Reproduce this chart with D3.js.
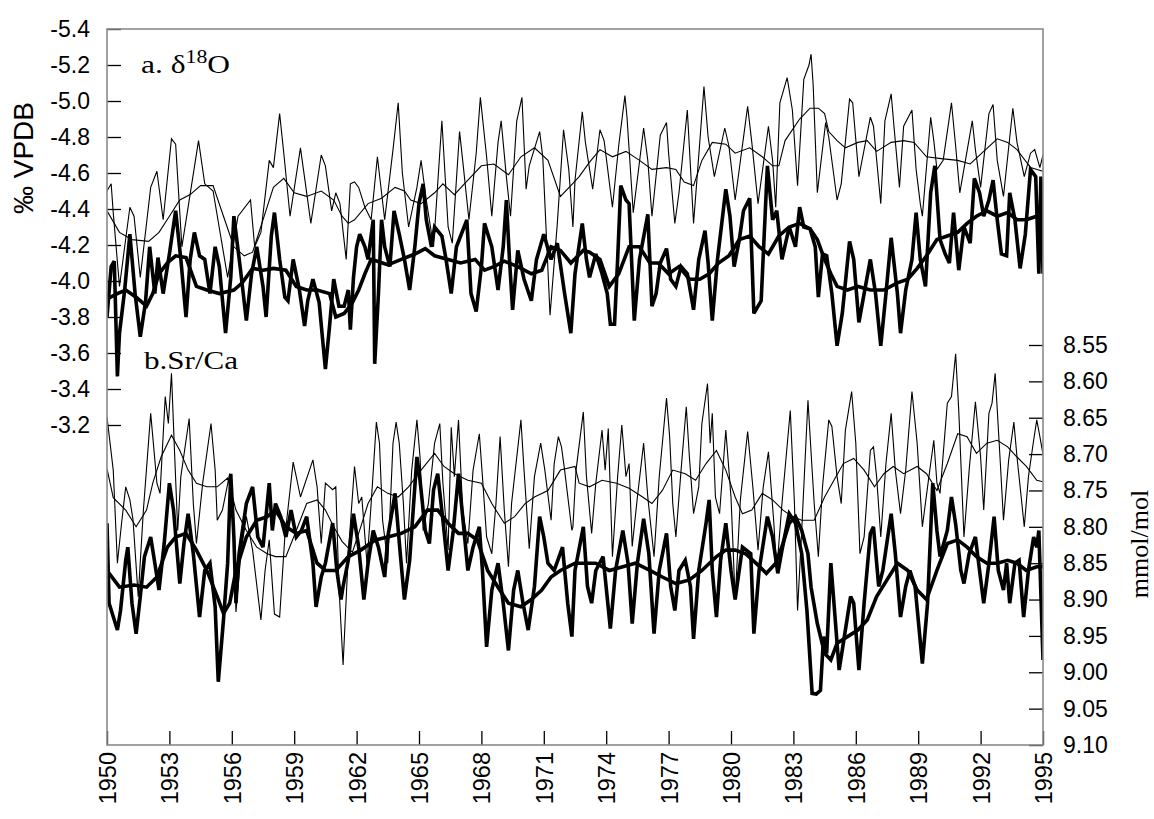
<!doctype html>
<html lang="en-US">
<head>
    <meta charset="UTF-8">
    <title>Coral d18O and Sr/Ca, 1950-1995</title>
    <script src="https://d3js.org/d3.v7.min.js" charset="utf-8"></script>
    <style>
        body { margin: 0; background: #fff; }
        svg { display: block; }
        .tick text { font-family: "Liberation Sans", Arial, sans-serif; font-size: 23px; fill: #000; }
        .tick line { stroke: #000; stroke-width: 1.3; }
        .domain { display: none; }
    </style>
</head>
<body>
<svg id="chart" width="1154" height="819"></svg>
<script>
    // ---- data ([year, value]) ---- //

    const yearTicks = [1950, 1953, 1956, 1959, 1962, 1965, 1968, 1971, 1974, 1977, 1980, 1983, 1986, 1989, 1992, 1995];
    const o18Ticks = [-5.4, -5.2, -5.0, -4.8, -4.6, -4.4, -4.2, -4.0, -3.8, -3.6, -3.4, -3.2];
    const srTicks = [8.55, 8.60, 8.65, 8.70, 8.75, 8.80, 8.85, 8.90, 8.95, 9.00, 9.05, 9.10];

    // a. d18O, thin record
    const o18Thin = [[1950.0,-4.50],[1950.2,-4.54],[1950.3,-4.38],[1950.6,-3.97],[1951.1,-4.41],[1951.3,-4.36],[1951.6,-4.02],[1952.1,-4.52],[1952.4,-4.61],[1952.7,-4.34],[1953.1,-4.79],[1953.3,-4.76],[1953.6,-4.19],[1954.4,-4.78],[1954.7,-4.54],[1955.1,-4.50],[1955.8,-4.02],[1956.3,-4.36],[1956.9,-4.45],[1957.1,-4.19],[1957.4,-4.27],[1957.8,-4.67],[1958.0,-4.63],[1958.3,-4.93],[1958.5,-4.71],[1958.8,-4.36],[1959.3,-4.74],[1959.6,-4.49],[1959.8,-4.32],[1960.3,-4.70],[1960.5,-4.64],[1960.8,-4.39],[1961.0,-4.49],[1961.2,-4.43],[1961.5,-4.12],[1961.7,-4.54],[1961.9,-4.55],[1962.1,-4.52],[1962.4,-4.41],[1962.7,-4.34],[1963.0,-4.69],[1963.35,-4.34],[1963.75,-4.73],[1964.0,-4.99],[1964.2,-4.60],[1964.5,-4.30],[1964.9,-4.52],[1965.1,-4.67],[1965.35,-4.45],[1965.7,-4.19],[1966.1,-4.89],[1966.4,-4.30],[1966.6,-4.21],[1966.95,-4.83],[1967.1,-4.67],[1967.4,-4.34],[1967.75,-4.71],[1967.95,-5.02],[1968.25,-4.69],[1968.5,-4.36],[1968.8,-4.77],[1968.95,-4.89],[1969.2,-4.58],[1969.4,-4.36],[1969.7,-4.89],[1969.95,-5.02],[1970.15,-4.51],[1970.3,-4.64],[1970.8,-4.83],[1970.95,-4.69],[1971.3,-3.81],[1971.65,-4.32],[1971.95,-4.84],[1972.2,-4.62],[1972.4,-4.30],[1972.5,-4.56],[1972.85,-4.94],[1973.0,-4.77],[1973.35,-4.51],[1973.7,-4.84],[1973.9,-4.78],[1974.3,-4.41],[1974.6,-4.75],[1974.9,-5.03],[1975.0,-4.91],[1975.3,-4.38],[1975.8,-4.85],[1976.0,-4.67],[1976.2,-4.36],[1976.6,-4.81],[1976.9,-4.88],[1977.0,-4.71],[1977.3,-4.32],[1977.5,-4.49],[1977.9,-4.95],[1978.2,-4.32],[1978.4,-4.62],[1978.7,-5.08],[1978.9,-4.80],[1979.2,-4.58],[1979.7,-4.85],[1979.9,-4.75],[1980.2,-4.45],[1980.8,-4.97],[1981.0,-4.77],[1981.3,-4.43],[1981.8,-4.86],[1982.0,-4.67],[1982.15,-4.41],[1982.35,-4.99],[1982.7,-5.13],[1982.95,-4.95],[1983.2,-4.53],[1983.5,-5.12],[1983.75,-5.20],[1983.85,-5.26],[1983.95,-5.09],[1984.15,-4.49],[1984.55,-4.88],[1984.7,-4.80],[1985.1,-4.45],[1985.3,-4.54],[1985.7,-5.01],[1985.85,-4.99],[1986.15,-4.58],[1986.7,-4.91],[1986.85,-4.86],[1987.2,-4.43],[1987.4,-4.89],[1987.7,-5.04],[1987.85,-4.84],[1988.1,-4.52],[1988.3,-4.86],[1988.7,-4.95],[1988.9,-4.62],[1989.1,-4.43],[1989.2,-4.36],[1989.6,-4.91],[1989.75,-4.78],[1989.9,-4.62],[1990.2,-4.67],[1990.6,-4.99],[1990.8,-4.75],[1991.0,-4.49],[1991.6,-4.89],[1991.75,-4.73],[1992.0,-4.52],[1992.4,-4.93],[1992.6,-4.98],[1992.8,-4.67],[1993.1,-4.47],[1993.55,-4.96],[1993.75,-4.77],[1994.1,-4.58],[1994.4,-4.71],[1994.6,-4.73],[1994.85,-4.63],[1995.0,-4.70]];
    const o18ThinMean = [[1950.0,-4.39],[1950.6,-4.27],[1951.2,-4.23],[1952.0,-4.22],[1952.5,-4.27],[1953.0,-4.36],[1953.5,-4.45],[1954.0,-4.48],[1954.5,-4.53],[1955.1,-4.53],[1955.6,-4.36],[1956.1,-4.19],[1956.6,-4.14],[1957.0,-4.16],[1957.5,-4.34],[1958.0,-4.52],[1958.5,-4.57],[1959.0,-4.49],[1959.6,-4.47],[1960.3,-4.50],[1960.9,-4.45],[1961.3,-4.36],[1961.6,-4.32],[1961.9,-4.34],[1962.55,-4.43],[1963.2,-4.46],[1963.85,-4.52],[1964.3,-4.50],[1964.6,-4.45],[1965.1,-4.43],[1965.75,-4.49],[1966.15,-4.54],[1966.7,-4.48],[1967.35,-4.56],[1968.0,-4.64],[1968.6,-4.65],[1969.3,-4.59],[1969.9,-4.69],[1970.55,-4.74],[1971.2,-4.67],[1971.8,-4.47],[1972.3,-4.53],[1972.7,-4.58],[1973.2,-4.66],[1973.7,-4.73],[1974.3,-4.69],[1974.95,-4.72],[1975.6,-4.67],[1976.2,-4.62],[1976.9,-4.63],[1977.35,-4.62],[1977.75,-4.55],[1978.2,-4.53],[1978.6,-4.67],[1979.1,-4.77],[1979.75,-4.76],[1980.2,-4.71],[1980.9,-4.74],[1981.5,-4.69],[1982.0,-4.64],[1982.3,-4.64],[1982.6,-4.78],[1983.3,-4.90],[1983.8,-4.96],[1984.2,-4.96],[1984.5,-4.93],[1984.7,-4.83],[1985.1,-4.78],[1985.5,-4.74],[1986.1,-4.77],[1986.55,-4.78],[1987.0,-4.72],[1987.7,-4.77],[1988.3,-4.78],[1988.8,-4.77],[1989.4,-4.69],[1990.1,-4.68],[1990.9,-4.67],[1991.5,-4.65],[1992.15,-4.72],[1992.8,-4.79],[1993.3,-4.77],[1993.75,-4.73],[1994.4,-4.63],[1995.0,-4.61]];

    // a. d18O, thick record
    const o18Thick = [[1950.0,-3.80],[1950.2,-4.08],[1950.35,-4.11],[1950.5,-3.47],[1950.6,-3.71],[1950.85,-3.95],[1951.1,-4.26],[1951.35,-3.93],[1951.6,-3.69],[1951.85,-3.88],[1952.05,-4.19],[1952.3,-3.93],[1952.45,-4.13],[1952.7,-3.93],[1953.0,-4.15],[1953.3,-4.39],[1953.55,-4.12],[1953.8,-3.80],[1954.0,-4.12],[1954.2,-4.27],[1954.45,-4.14],[1954.7,-4.12],[1954.95,-3.93],[1955.2,-4.19],[1955.4,-4.08],[1955.7,-3.71],[1955.95,-4.02],[1956.1,-4.36],[1956.4,-4.08],[1956.7,-3.78],[1956.95,-4.04],[1957.2,-4.19],[1957.5,-3.97],[1957.65,-3.80],[1957.9,-4.25],[1958.05,-4.38],[1958.3,-4.12],[1958.55,-3.91],[1958.7,-3.89],[1958.95,-4.12],[1959.25,-3.95],[1959.5,-3.75],[1959.65,-3.89],[1959.9,-4.01],[1960.2,-3.88],[1960.5,-3.51],[1960.7,-3.75],[1960.9,-4.01],[1961.15,-3.86],[1961.4,-3.86],[1961.6,-3.95],[1961.7,-3.73],[1961.85,-4.02],[1962.0,-4.19],[1962.15,-4.26],[1962.4,-4.19],[1962.55,-4.12],[1962.8,-4.34],[1962.87,-3.54],[1963.05,-3.93],[1963.2,-4.34],[1963.35,-4.19],[1963.6,-4.08],[1963.8,-4.39],[1964.05,-4.26],[1964.3,-4.12],[1964.55,-3.95],[1964.8,-4.19],[1965.0,-4.43],[1965.2,-4.54],[1965.35,-4.34],[1965.6,-4.19],[1965.75,-4.30],[1966.1,-4.25],[1966.3,-4.12],[1966.55,-3.93],[1966.8,-4.19],[1967.0,-4.25],[1967.3,-4.34],[1967.5,-3.93],[1967.75,-3.83],[1968.0,-4.08],[1968.15,-4.32],[1968.5,-4.19],[1968.8,-3.95],[1969.05,-4.19],[1969.2,-4.45],[1969.35,-4.12],[1969.5,-3.84],[1969.75,-4.17],[1970.05,-4.01],[1970.4,-3.89],[1970.65,-4.12],[1971.0,-4.26],[1971.35,-4.12],[1971.65,-4.21],[1972.0,-3.93],[1972.3,-3.71],[1972.5,-4.04],[1972.85,-4.32],[1973.05,-4.12],[1973.2,-4.02],[1973.5,-4.15],[1973.8,-4.04],[1974.05,-3.93],[1974.2,-3.76],[1974.4,-3.76],[1974.55,-4.12],[1974.7,-4.53],[1974.95,-4.45],[1975.1,-4.43],[1975.35,-3.78],[1975.6,-4.12],[1976.0,-4.37],[1976.2,-3.86],[1976.4,-3.93],[1976.6,-4.10],[1976.9,-4.18],[1977.1,-4.01],[1977.35,-3.97],[1977.6,-4.08],[1977.9,-4.04],[1978.2,-3.84],[1978.45,-4.12],[1978.75,-4.28],[1978.9,-4.10],[1979.1,-3.78],[1979.35,-4.12],[1979.75,-4.51],[1979.95,-4.36],[1980.15,-4.08],[1980.4,-4.23],[1980.6,-4.39],[1980.9,-4.46],[1981.1,-3.82],[1981.45,-3.89],[1981.75,-4.64],[1982.0,-4.34],[1982.2,-4.39],[1982.45,-4.12],[1982.8,-4.30],[1983.1,-4.19],[1983.3,-4.41],[1983.5,-4.30],[1983.8,-4.29],[1984.05,-4.19],[1984.2,-3.91],[1984.4,-4.15],[1984.6,-4.14],[1984.85,-3.93],[1985.1,-3.64],[1985.35,-3.82],[1985.7,-4.22],[1985.9,-4.12],[1986.15,-3.77],[1986.4,-3.93],[1986.7,-4.12],[1986.95,-3.93],[1987.2,-3.64],[1987.45,-3.93],[1987.7,-4.24],[1988.0,-3.93],[1988.15,-3.71],[1988.4,-3.95],[1988.7,-4.12],[1988.9,-4.38],[1989.1,-4.12],[1989.35,-3.97],[1989.6,-4.49],[1989.8,-4.64],[1990.05,-4.23],[1990.3,-4.15],[1990.5,-4.10],[1990.7,-4.38],[1990.95,-4.06],[1991.2,-4.30],[1991.5,-4.21],[1991.7,-4.57],[1991.95,-4.49],[1992.15,-4.36],[1992.4,-4.45],[1992.6,-4.56],[1992.8,-4.34],[1993.0,-4.15],[1993.25,-4.14],[1993.4,-4.49],[1993.65,-4.34],[1993.9,-4.07],[1994.15,-4.26],[1994.4,-4.62],[1994.65,-4.58],[1994.8,-4.04],[1994.9,-4.58],[1995.0,-4.04]];
    const o18ThickMean = [[1950.0,-3.90],[1950.5,-3.93],[1950.9,-3.95],[1951.4,-3.91],[1951.9,-3.86],[1952.2,-3.93],[1952.5,-4.04],[1952.9,-4.10],[1953.3,-4.14],[1953.8,-4.13],[1954.3,-3.97],[1954.8,-3.95],[1955.4,-3.93],[1956.1,-3.95],[1956.5,-3.99],[1957.0,-4.07],[1957.5,-4.06],[1958.0,-4.07],[1958.6,-4.06],[1959.1,-3.97],[1959.6,-3.95],[1960.1,-3.95],[1960.7,-3.93],[1961.0,-3.80],[1961.4,-3.82],[1961.75,-3.87],[1962.1,-3.95],[1962.4,-4.04],[1962.7,-4.12],[1963.0,-4.11],[1963.5,-4.09],[1964.15,-4.12],[1964.8,-4.15],[1965.3,-4.18],[1965.75,-4.14],[1966.4,-4.12],[1967.0,-4.10],[1967.7,-4.12],[1968.15,-4.06],[1968.6,-4.08],[1969.1,-4.11],[1969.75,-4.08],[1970.4,-4.04],[1970.9,-4.06],[1971.35,-4.19],[1971.8,-4.17],[1972.3,-4.10],[1972.9,-4.17],[1973.2,-4.16],[1973.7,-4.12],[1974.15,-3.97],[1974.6,-4.04],[1975.1,-4.19],[1975.6,-4.19],[1976.1,-4.10],[1976.5,-4.10],[1977.0,-4.04],[1977.5,-4.08],[1978.0,-4.01],[1978.5,-4.01],[1978.95,-4.04],[1979.4,-4.10],[1979.9,-4.14],[1980.4,-4.23],[1980.9,-4.25],[1981.35,-4.19],[1981.8,-4.15],[1982.3,-4.25],[1982.8,-4.30],[1983.3,-4.32],[1983.8,-4.29],[1984.15,-4.23],[1984.5,-4.12],[1984.8,-4.04],[1985.1,-3.97],[1985.6,-3.95],[1986.1,-3.97],[1986.7,-3.95],[1987.35,-3.95],[1988.0,-3.99],[1988.5,-4.01],[1988.95,-4.07],[1989.4,-4.14],[1989.9,-4.23],[1990.4,-4.25],[1990.9,-4.27],[1991.35,-4.32],[1991.8,-4.36],[1992.3,-4.39],[1992.8,-4.36],[1993.3,-4.38],[1993.75,-4.34],[1994.2,-4.34],[1994.7,-4.36],[1995.0,-4.35]];

    // b. Sr/Ca, thin record
    const srThin = [[1950.0,8.649],[1950.3,8.722],[1950.5,8.85],[1950.7,8.795],[1950.9,8.745],[1951.1,8.763],[1951.25,8.79],[1951.5,8.896],[1951.75,8.777],[1952.1,8.644],[1952.2,8.676],[1952.4,8.74],[1952.55,8.754],[1952.8,8.621],[1952.95,8.658],[1953.1,8.589],[1953.25,8.699],[1953.4,8.805],[1953.55,8.731],[1953.95,8.651],[1954.15,8.768],[1954.3,8.823],[1954.6,8.74],[1955.0,8.658],[1955.2,8.722],[1955.3,8.791],[1955.55,8.777],[1955.9,8.727],[1956.1,8.814],[1956.2,8.917],[1956.45,8.832],[1956.7,8.786],[1957.0,8.832],[1957.4,8.928],[1957.6,8.86],[1957.8,8.818],[1958.05,8.92],[1958.3,8.924],[1958.55,8.814],[1958.95,8.711],[1959.1,8.731],[1959.3,8.759],[1959.9,8.708],[1960.1,8.745],[1960.3,8.823],[1960.5,8.74],[1960.85,8.749],[1961.0,8.745],[1961.15,8.882],[1961.35,8.99],[1961.6,8.837],[1961.9,8.717],[1962.1,8.768],[1962.25,8.759],[1962.5,8.85],[1962.7,8.768],[1962.95,8.656],[1963.1,8.685],[1963.25,8.791],[1963.5,8.85],[1963.75,8.685],[1963.9,8.656],[1964.05,8.685],[1964.25,8.768],[1964.4,8.85],[1964.65,8.722],[1964.9,8.653],[1965.05,8.704],[1965.2,8.805],[1965.45,8.768],[1965.75,8.685],[1966.0,8.658],[1966.15,8.74],[1966.4,8.832],[1966.55,8.663],[1966.7,8.731],[1966.9,8.653],[1967.1,8.777],[1967.35,8.823],[1967.6,8.722],[1967.9,8.672],[1968.05,8.731],[1968.25,8.814],[1968.5,8.837],[1968.7,8.768],[1968.9,8.676],[1969.1,8.777],[1969.3,8.855],[1969.45,8.768],[1969.9,8.653],[1970.05,8.722],[1970.3,8.83],[1970.55,8.731],[1970.85,8.685],[1971.05,8.722],[1971.35,8.791],[1971.5,8.713],[1971.7,8.676],[1971.85,8.69],[1972.0,8.722],[1972.35,8.805],[1972.4,8.80],[1972.55,8.722],[1972.9,8.642],[1973.05,8.731],[1973.3,8.809],[1973.5,8.74],[1973.8,8.667],[1973.95,8.722],[1974.1,8.665],[1974.3,8.841],[1974.55,8.731],[1974.75,8.66],[1974.95,8.731],[1975.1,8.713],[1975.25,8.827],[1975.5,8.759],[1975.8,8.685],[1976.0,8.759],[1976.3,8.841],[1976.55,8.731],[1976.7,8.685],[1976.9,8.623],[1977.05,8.676],[1977.2,8.768],[1977.35,8.814],[1977.6,8.722],[1977.85,8.635],[1978.0,8.704],[1978.2,8.782],[1978.45,8.745],[1978.6,8.658],[1978.87,8.603],[1979.0,8.685],[1979.1,8.644],[1979.25,8.759],[1979.45,8.782],[1979.75,8.667],[1980.0,8.759],[1980.2,8.90],[1980.45,8.763],[1980.8,8.669],[1981.05,8.745],[1981.3,8.832],[1981.55,8.745],[1981.8,8.697],[1982.05,8.791],[1982.2,8.86],[1982.45,8.768],[1982.85,8.64],[1983.05,8.768],[1983.2,8.915],[1983.4,8.805],[1983.7,8.626],[1983.9,8.722],[1984.0,8.768],[1984.2,8.841],[1984.4,8.745],[1984.7,8.653],[1984.85,8.662],[1985.1,8.731],[1985.3,8.768],[1985.5,8.667],[1985.8,8.614],[1986.0,8.685],[1986.2,8.837],[1986.4,8.814],[1986.7,8.695],[1986.85,8.690],[1987.0,8.731],[1987.2,8.814],[1987.45,8.713],[1987.7,8.644],[1987.9,8.722],[1988.15,8.782],[1988.4,8.722],[1988.7,8.614],[1988.95,8.685],[1989.2,8.80],[1989.45,8.745],[1989.75,8.681],[1989.9,8.74],[1990.05,8.754],[1990.4,8.63],[1990.6,8.621],[1990.8,8.562],[1990.95,8.64],[1991.2,8.814],[1991.45,8.722],[1991.75,8.628],[1992.0,8.704],[1992.15,8.777],[1992.4,8.644],[1992.55,8.630],[1992.7,8.589],[1992.95,8.713],[1993.1,8.791],[1993.35,8.708],[1993.6,8.656],[1993.75,8.704],[1994.1,8.80],[1994.3,8.731],[1994.55,8.681],[1994.7,8.653],[1994.85,8.676],[1995.0,8.70]];
    const srThinMean = [[1950.0,8.72],[1950.3,8.76],[1950.9,8.777],[1951.4,8.80],[1951.9,8.777],[1952.2,8.74],[1952.6,8.704],[1953.1,8.674],[1953.5,8.695],[1953.9,8.722],[1954.3,8.74],[1954.8,8.745],[1955.3,8.745],[1955.8,8.733],[1956.2,8.777],[1956.7,8.805],[1957.2,8.828],[1957.7,8.837],[1958.1,8.841],[1958.6,8.841],[1959.1,8.805],[1959.6,8.768],[1960.1,8.763],[1960.5,8.777],[1960.9,8.80],[1961.3,8.82],[1961.8,8.835],[1962.2,8.80],[1962.55,8.768],[1963.0,8.745],[1963.5,8.754],[1964.0,8.759],[1964.5,8.745],[1965.1,8.722],[1965.75,8.699],[1966.2,8.717],[1966.7,8.727],[1967.35,8.736],[1968.0,8.740],[1968.5,8.768],[1969.1,8.795],[1969.6,8.786],[1970.1,8.768],[1970.55,8.759],[1971.2,8.75],[1971.8,8.722],[1972.5,8.717],[1972.7,8.74],[1973.2,8.745],[1973.8,8.736],[1974.5,8.740],[1975.1,8.747],[1975.75,8.759],[1976.2,8.768],[1976.7,8.750],[1977.2,8.722],[1977.8,8.727],[1978.3,8.736],[1978.8,8.713],[1979.3,8.695],[1979.75,8.722],[1980.2,8.759],[1980.55,8.782],[1981.0,8.777],[1981.5,8.754],[1982.0,8.763],[1982.5,8.777],[1982.95,8.786],[1983.4,8.791],[1984.0,8.791],[1984.5,8.759],[1984.95,8.736],[1985.4,8.713],[1985.9,8.706],[1986.4,8.722],[1986.9,8.745],[1987.35,8.727],[1987.8,8.717],[1988.3,8.727],[1988.95,8.717],[1989.4,8.727],[1989.9,8.75],[1990.4,8.713],[1990.9,8.672],[1991.35,8.676],[1991.8,8.699],[1992.3,8.685],[1992.8,8.681],[1993.3,8.690],[1993.75,8.704],[1994.2,8.717],[1994.7,8.736],[1995.0,8.738]];

    // b. Sr/Ca, thick record
    const srThick = [[1950.0,8.795],[1950.1,8.905],[1950.5,8.942],[1950.65,8.915],[1950.9,8.846],[1951.0,8.828],[1951.2,8.905],[1951.4,8.947],[1951.6,8.896],[1951.8,8.841],[1952.1,8.814],[1952.3,8.85],[1952.5,8.887],[1952.75,8.823],[1953.0,8.74],[1953.2,8.777],[1953.5,8.878],[1953.7,8.823],[1953.9,8.782],[1954.15,8.837],[1954.45,8.924],[1954.7,8.86],[1954.95,8.85],[1955.2,8.91],[1955.35,9.013],[1955.6,8.928],[1955.8,8.85],[1955.95,8.727],[1956.1,8.814],[1956.2,8.905],[1956.35,8.837],[1956.7,8.768],[1957.0,8.745],[1957.25,8.814],[1957.5,8.828],[1957.8,8.74],[1957.95,8.805],[1958.1,8.768],[1958.35,8.786],[1958.6,8.814],[1958.85,8.777],[1959.1,8.814],[1959.35,8.805],[1959.6,8.786],[1959.9,8.85],[1960.05,8.91],[1960.3,8.869],[1960.5,8.85],[1960.85,8.795],[1961.05,8.86],[1961.25,8.90],[1961.35,8.882],[1961.6,8.846],[1961.85,8.782],[1962.1,8.828],[1962.35,8.90],[1962.55,8.85],[1962.8,8.805],[1963.05,8.828],[1963.35,8.869],[1963.5,8.814],[1963.85,8.754],[1964.1,8.837],[1964.3,8.90],[1964.55,8.846],[1964.9,8.704],[1965.05,8.736],[1965.3,8.805],[1965.5,8.823],[1965.7,8.749],[1965.9,8.727],[1966.15,8.791],[1966.4,8.86],[1966.65,8.805],[1966.9,8.727],[1967.1,8.786],[1967.35,8.86],[1967.6,8.828],[1967.9,8.80],[1968.05,8.86],[1968.25,8.965],[1968.5,8.887],[1968.8,8.85],[1969.05,8.905],[1969.3,8.97],[1969.55,8.887],[1969.75,8.86],[1970.0,8.905],[1970.25,8.942],[1970.55,8.882],[1970.8,8.786],[1971.0,8.814],[1971.2,8.85],[1971.5,8.86],[1971.9,8.828],[1972.15,8.905],[1972.35,8.951],[1972.5,8.86],[1972.9,8.80],[1973.1,8.882],[1973.3,8.905],[1973.5,8.860],[1973.85,8.841],[1974.2,8.94],[1974.45,8.860],[1974.8,8.805],[1975.05,8.85],[1975.25,8.933],[1975.5,8.85],[1975.8,8.789],[1976.05,8.837],[1976.3,8.947],[1976.55,8.860],[1976.9,8.809],[1977.1,8.882],[1977.3,8.915],[1977.5,8.860],[1977.8,8.846],[1978.05,8.882],[1978.2,8.954],[1978.45,8.86],[1978.8,8.795],[1978.95,8.763],[1979.1,8.860],[1979.3,8.924],[1979.5,8.846],[1979.75,8.795],[1980.0,8.860],[1980.2,8.90],[1980.55,8.828],[1980.95,8.837],[1981.1,8.947],[1981.35,8.860],[1981.75,8.786],[1982.0,8.814],[1982.25,8.864],[1982.45,8.832],[1982.8,8.782],[1983.1,8.795],[1983.4,8.837],[1983.65,8.915],[1983.9,9.029],[1984.1,9.03],[1984.3,9.025],[1984.45,8.951],[1984.6,8.974],[1984.8,8.85],[1984.95,8.905],[1985.2,8.997],[1985.45,8.951],[1985.75,8.896],[1985.9,8.905],[1986.15,8.997],[1986.4,8.905],[1986.7,8.809],[1986.85,8.80],[1987.1,8.882],[1987.3,8.860],[1987.7,8.782],[1987.9,8.837],[1988.15,8.924],[1988.4,8.882],[1988.6,8.860],[1988.85,8.882],[1989.2,8.988],[1989.45,8.905],[1989.7,8.74],[1989.9,8.805],[1990.05,8.841],[1990.4,8.805],[1990.6,8.759],[1990.8,8.796],[1991.05,8.860],[1991.2,8.878],[1991.45,8.837],[1991.75,8.814],[1991.95,8.860],[1992.15,8.905],[1992.4,8.850],[1992.65,8.786],[1992.85,8.860],[1993.1,8.887],[1993.25,8.850],[1993.4,8.905],[1993.65,8.850],[1993.85,8.846],[1994.07,8.924],[1994.3,8.860],[1994.55,8.814],[1994.7,8.828],[1994.8,8.805],[1995.0,8.983]];
    const srThickMean = [[1950.0,8.86],[1950.6,8.883],[1951.3,8.880],[1951.9,8.883],[1952.4,8.869],[1952.9,8.828],[1953.3,8.814],[1953.8,8.809],[1954.3,8.832],[1954.8,8.86],[1955.3,8.896],[1955.6,8.919],[1955.9,8.905],[1956.2,8.86],[1956.7,8.814],[1957.2,8.791],[1957.7,8.786],[1958.1,8.777],[1958.6,8.80],[1959.1,8.809],[1959.6,8.805],[1960.1,8.85],[1960.5,8.86],[1961.0,8.86],[1961.6,8.841],[1962.2,8.832],[1962.9,8.818],[1963.5,8.814],[1964.15,8.809],[1964.8,8.80],[1965.4,8.777],[1965.9,8.777],[1966.4,8.795],[1966.9,8.809],[1967.35,8.809],[1967.8,8.818],[1968.3,8.86],[1968.8,8.883],[1969.3,8.905],[1969.9,8.91],[1970.4,8.90],[1970.9,8.887],[1971.35,8.869],[1971.8,8.86],[1972.5,8.85],[1972.9,8.85],[1973.5,8.85],[1974.15,8.86],[1974.8,8.855],[1975.4,8.85],[1976.1,8.86],[1976.7,8.869],[1977.35,8.878],[1978.0,8.873],[1978.6,8.86],[1979.3,8.841],[1979.75,8.832],[1980.2,8.832],[1980.7,8.837],[1981.2,8.85],[1981.7,8.864],[1982.15,8.85],[1982.5,8.823],[1982.8,8.795],[1983.1,8.786],[1983.4,8.805],[1983.7,8.837],[1983.85,8.883],[1984.15,8.933],[1984.5,8.974],[1984.8,8.983],[1985.1,8.96],[1985.6,8.951],[1986.1,8.942],[1986.55,8.928],[1987.0,8.896],[1987.5,8.873],[1988.0,8.85],[1988.5,8.86],[1988.95,8.887],[1989.4,8.90],[1989.9,8.86],[1990.4,8.823],[1990.9,8.818],[1991.35,8.828],[1991.8,8.841],[1992.3,8.85],[1992.8,8.85],[1993.3,8.846],[1993.75,8.85],[1994.2,8.86],[1994.7,8.855],[1995.0,8.855]];

    // ---- layout ---- //
    const LEFT = 107, RIGHT = 1043, TOP = 29, BOTTOM = 745;
    const THIN = 1.1;
    const THICK = 3.6;

    const svg = d3.select("#chart");

    const x = d3.scaleLinear().domain([1950, 1995]).range([LEFT, RIGHT]);
    const yO18 = d3.scaleLinear().domain([-5.4, -3.2]).range([TOP, 425]);
    const ySr = d3.scaleLinear().domain([8.55, 9.10]).range([345, BOTTOM]);

    svg.append("clipPath").attr("id", "plot_clip")
        .append("rect")
        .attr("x", LEFT).attr("y", TOP)
        .attr("width", RIGHT - LEFT).attr("height", BOTTOM - TOP);

    const plot = svg.append("g").attr("clip-path", "url(#plot_clip)");

    function drawSeries(data, yScale, width) {
        const line = d3.line()
            .x(d => x(d[0]))
            .y(d => yScale(d[1]));
        plot.append("path")
            .attr("d", line(data))
            .attr("fill", "none")
            .attr("stroke", "#000")
            .attr("stroke-width", width)
            .attr("stroke-linejoin", "miter")
            .attr("stroke-miterlimit", 3);
    }

    drawSeries(o18Thin, yO18, THIN);
    drawSeries(o18ThinMean, yO18, THIN);
    drawSeries(srThin, ySr, THIN);
    drawSeries(srThinMean, ySr, THIN);
    drawSeries(o18Thick, yO18, THICK);
    drawSeries(o18ThickMean, yO18, THICK);
    drawSeries(srThick, ySr, THICK);
    drawSeries(srThickMean, ySr, THICK);

    // axes, ticks point inward
    svg.append("g")
        .attr("transform", `translate(${LEFT},0)`)
        .call(d3.axisLeft(yO18).tickValues(o18Ticks).tickSize(-14).tickPadding(17)
            .tickFormat(d => d.toFixed(1)));

    svg.append("g")
        .attr("transform", `translate(${RIGHT},0)`)
        .call(d3.axisRight(ySr).tickValues(srTicks).tickSize(-14).tickPadding(20)
            .tickFormat(d => d.toFixed(2)));

    const xAxis = svg.append("g")
        .attr("transform", `translate(0,${BOTTOM})`)
        .call(d3.axisBottom(x).tickValues(yearTicks).tickSize(-14).tickFormat(d3.format("d")));
    xAxis.selectAll(".tick text")
        .attr("text-anchor", "end")
        .attr("transform", "rotate(-90)")
        .attr("x", -7)
        .attr("y", 0)
        .attr("dy", "0.36em")
        .style("font-size", "23.5px");

    // frame
    svg.append("rect")
        .attr("x", LEFT).attr("y", TOP)
        .attr("width", RIGHT - LEFT).attr("height", BOTTOM - TOP)
        .attr("fill", "none")
        .attr("stroke", "#8a8a8a")
        .attr("stroke-width", 1.6);

    // axis titles
    svg.append("text")
        .attr("transform", "translate(33,158) rotate(-90)")
        .attr("text-anchor", "middle")
        .style("font-family", "'Liberation Sans', Arial, sans-serif")
        .style("font-size", "28px")
        .text("‰ VPDB");

    svg.append("text")
        .attr("transform", "translate(1148,544) rotate(-90)")
        .attr("text-anchor", "middle")
        .style("font-family", "'Liberation Serif', 'Times New Roman', serif")
        .style("font-size", "26px")
        .text("mmol/mol");

    // panel labels
    const labelA = svg.append("text")
        .attr("x", 141).attr("y", 73)
        .attr("textLength", 89)
        .attr("lengthAdjust", "spacingAndGlyphs")
        .style("font-family", "'Liberation Serif', 'Times New Roman', serif")
        .style("font-size", "26px");
    labelA.append("tspan").text("a. δ");
    labelA.append("tspan").attr("dy", -10).style("font-size", "18px").text("18");
    labelA.append("tspan").attr("dy", 10).text("O");

    svg.append("text")
        .attr("x", 144).attr("y", 369)
        .attr("textLength", 94)
        .attr("lengthAdjust", "spacingAndGlyphs")
        .style("font-family", "'Liberation Serif', 'Times New Roman', serif")
        .style("font-size", "26px")
        .text("b.Sr/Ca");
</script>
</body>
</html>
